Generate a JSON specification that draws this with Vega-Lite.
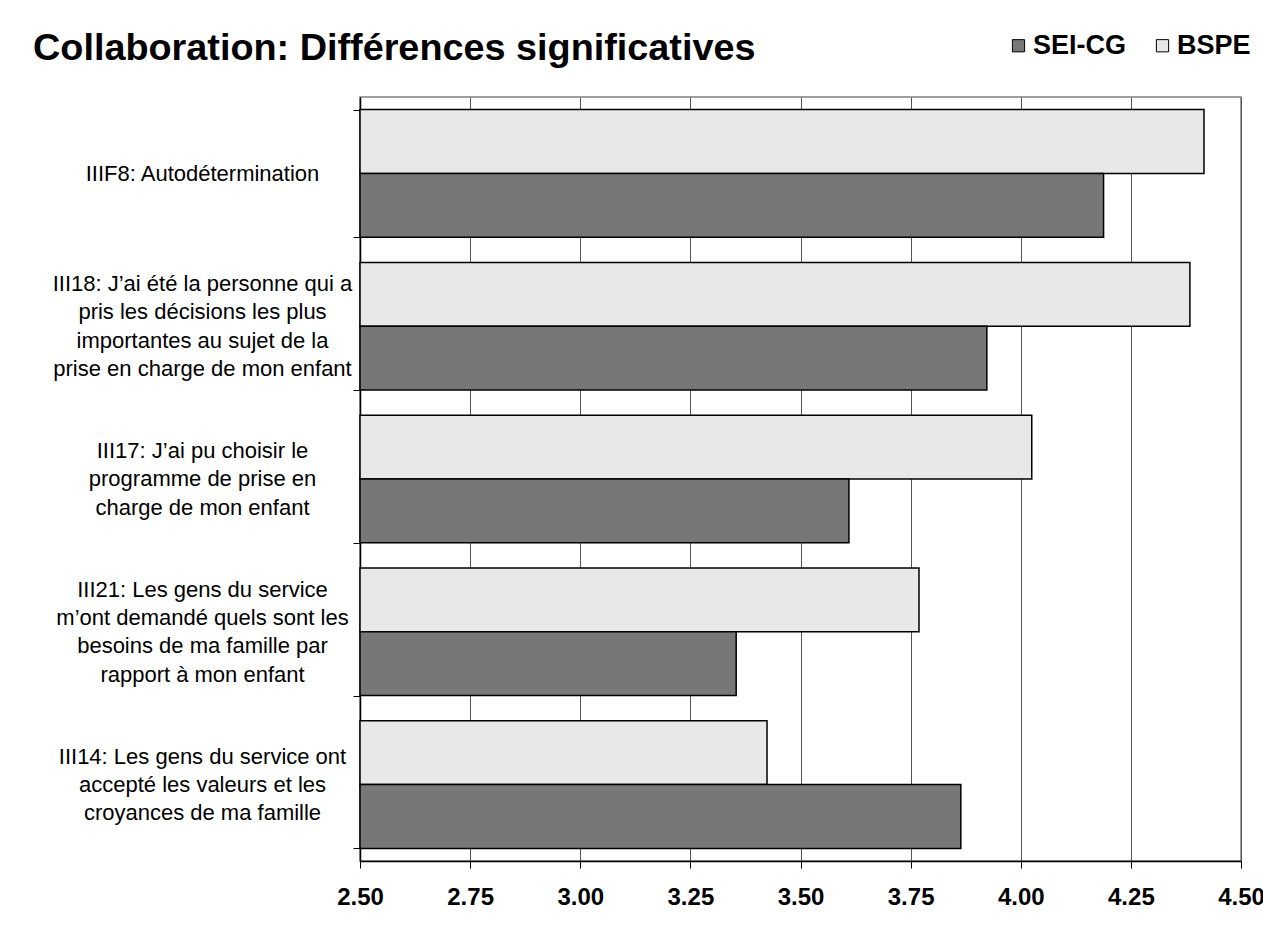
{
  "$schema": "https://vega.github.io/schema/vega-lite/v6.json",
  "autosize": "none",
  "width": 881,
  "height": 764,
  "padding": {"left": 360, "top": 97, "right": 22, "bottom": 70},
  "background": "white",
  "title": {
    "text": "Collaboration: Différences significatives",
    "anchor": "start",
    "frame": "group",
    "dx": -327,
    "offset": -36,
    "font": "Liberation Sans",
    "fontSize": 37.8,
    "fontWeight": "bold",
    "color": "black"
  },
  "config": {
    "font": "Liberation Sans",
    "view": {"stroke": "#808080", "strokeWidth": 1.5}
  },
  "data": {
    "values": [
      {"item": "IIIF8: Autodétermination", "group": "BSPE", "value": 4.416},
      {"item": "IIIF8: Autodétermination", "group": "SEI-CG", "value": 4.188},
      {"item": "III18: J’ai été la personne qui a|pris les décisions les plus|importantes au sujet de la|prise en charge de mon enfant", "group": "BSPE", "value": 4.384},
      {"item": "III18: J’ai été la personne qui a|pris les décisions les plus|importantes au sujet de la|prise en charge de mon enfant", "group": "SEI-CG", "value": 3.923},
      {"item": "III17: J’ai pu choisir le|programme de prise en|charge de mon enfant", "group": "BSPE", "value": 4.025},
      {"item": "III17: J’ai pu choisir le|programme de prise en|charge de mon enfant", "group": "SEI-CG", "value": 3.61},
      {"item": "III21: Les gens du service|m’ont demandé quels sont les|besoins de ma famille par|rapport à mon enfant", "group": "BSPE", "value": 3.769},
      {"item": "III21: Les gens du service|m’ont demandé quels sont les|besoins de ma famille par|rapport à mon enfant", "group": "SEI-CG", "value": 3.354},
      {"item": "III14: Les gens du service ont|accepté les valeurs et les|croyances de ma famille", "group": "BSPE", "value": 3.424},
      {"item": "III14: Les gens du service ont|accepté les valeurs et les|croyances de ma famille", "group": "SEI-CG", "value": 3.864}
    ]
  },
  "mark": {"type": "bar", "stroke": "black", "strokeWidth": 1.5},
  "encoding": {
    "y": {
      "field": "item",
      "type": "nominal",
      "sort": null,
      "title": null,
      "scale": {"paddingInner": 0.165, "paddingOuter": 0.0825},
      "axis": {
        "labelExpr": "split(datum.label, '|')",
        "labelAlign": "center",
        "labelBaseline": "middle",
        "labelPadding": 151,
        "labelOffset": {
          "condition": [
            {"test": "length(split(datum.value, '|')) == 4", "value": -42.5},
            {"test": "length(split(datum.value, '|')) == 3", "value": -28.3}
          ],
          "value": 0
        },
        "labelFontSize": 22,
        "labelLineHeight": 28.3,
        "labelLimit": 500,
        "labelColor": "black",
        "labelOverlap": false,
        "tickBand": "extent",
        "tickSize": 7,
        "tickColor": "black",
        "domainColor": "black",
        "domainWidth": 1.5,
        "grid": false
      }
    },
    "yOffset": {
      "field": "group",
      "type": "nominal",
      "sort": ["BSPE", "SEI-CG"],
      "scale": {"paddingInner": 0, "paddingOuter": 0}
    },
    "x": {
      "field": "value",
      "type": "quantitative",
      "title": null,
      "scale": {"domain": [2.5, 4.5], "nice": false, "zero": false},
      "axis": {
        "values": [2.5, 2.75, 3.0, 3.25, 3.5, 3.75, 4.0, 4.25, 4.5],
        "format": ".2f",
        "labelFontSize": 24,
        "labelFontWeight": "bold",
        "labelColor": "black",
        "labelPadding": 17,
        "labelFlush": false,
        "labelOverlap": false,
        "tickSize": 7,
        "tickColor": "black",
        "domainColor": "black",
        "domainWidth": 1.5,
        "grid": true,
        "gridColor": "#555555",
        "gridWidth": 1
      }
    },
    "x2": {"datum": 2.5},
    "color": {
      "field": "group",
      "type": "nominal",
      "scale": {"domain": ["SEI-CG", "BSPE"], "range": ["#777777", "#E8E8E8"]},
      "legend": {
        "title": null,
        "orient": "none",
        "legendX": 645,
        "legendY": -65,
        "direction": "horizontal",
        "symbolType": "square",
        "symbolSize": 150,
        "symbolStrokeColor": "black",
        "symbolStrokeWidth": 1,
        "labelFontSize": 27,
        "labelFontWeight": "bold",
        "labelColor": "black",
        "labelOffset": 1,
        "columnPadding": 22
      }
    }
  }
}
